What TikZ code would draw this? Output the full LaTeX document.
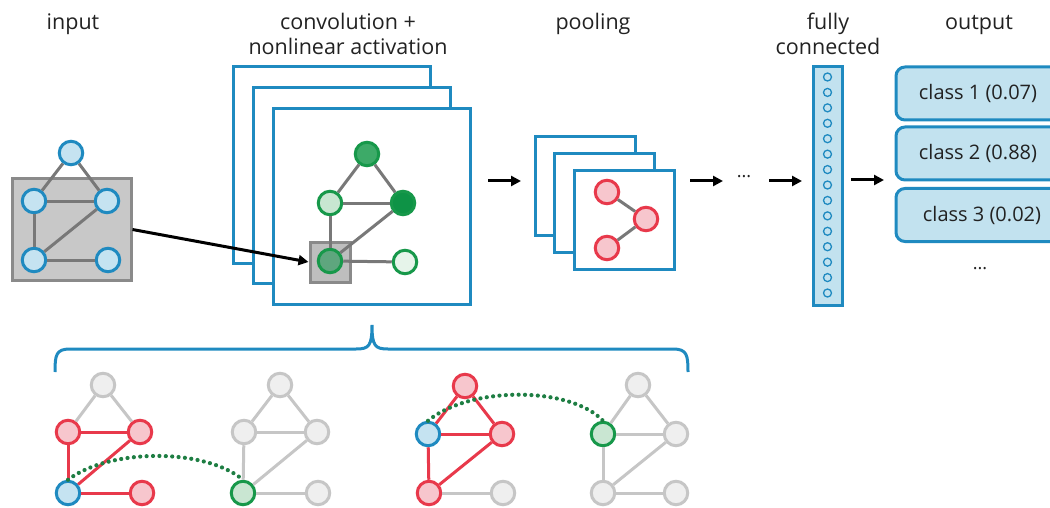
\documentclass[tikz,border=0pt]{standalone}
\usepackage{fontspec}
\setmainfont{Open Sans}
\usetikzlibrary{arrows.meta}
\definecolor{bl}{HTML}{1F8AC0}
\definecolor{blf}{HTML}{C5E3F1}
\definecolor{gr}{HTML}{17984A}
\definecolor{gA}{HTML}{3DAA68}
\definecolor{gB}{HTML}{C8E6D1}
\definecolor{gC}{HTML}{0E9346}
\definecolor{gD}{HTML}{5EA67E}
\definecolor{gE}{HTML}{E6F4EA}
\definecolor{gF}{HTML}{C9E6D2}
\definecolor{rd}{HTML}{E8394B}
\definecolor{rdf}{HTML}{F7C6CD}
\definecolor{gy}{HTML}{C6C6C6}
\definecolor{gyf}{HTML}{EFEFEF}
\definecolor{eg}{HTML}{787878}
\definecolor{rectf}{HTML}{C8C8C8}
\definecolor{rectd}{HTML}{8A8A8A}
\definecolor{dotg}{HTML}{1E7E43}
\definecolor{txt}{HTML}{222222}
\definecolor{outf}{HTML}{C2E2EF}
\begin{document}
\begin{tikzpicture}[x=1pt,y=-1pt,
  hd/.style={font=\fontsize{21.5}{25}\selectfont, text=txt, align=center, inner sep=0pt, anchor=base},
  nd/.style={circle, minimum size=23.5pt, inner sep=0pt, line width=3pt},
  inn/.style={nd, draw=bl, fill=blf},
  cn/.style={nd, draw=gr},
  pn/.style={nd, draw=rd, fill=rdf},
  gn/.style={nd, draw=gy, fill=gyf},
  ed/.style={draw=eg, line width=3pt},
  ged/.style={draw=gy, line width=3pt},
  red/.style={draw=rd, line width=3pt},
  stk/.style={draw=bl, fill=white, line width=3pt, inner sep=0pt},
  arr/.style={-{Triangle[length=10pt,width=10pt]}, line width=3pt, draw=black},
  outbox/.style={draw=bl, fill=outf, line width=3pt, rounded corners=9pt, minimum width=164pt, minimum height=53pt, inner sep=0pt, font=\fontsize{20}{24}\selectfont, text=txt},
  fcdot/.style={circle, draw=bl, line width=1.3pt, minimum size=8pt, inner sep=0pt},
  dotc/.style={draw=dotg, line width=4.2pt, line cap=round, dash pattern=on 0pt off 6.4pt},
  brc/.style={draw=bl, line width=3pt}
]
\useasboundingbox (0,0) rectangle (1050,508);

% headings
\node[hd] (hin) at (73,30) {input};
\node[hd] (hconv) at (348,55) {convolution +\\nonlinear activation};
\node[hd] (hpool) at (593,30) {pooling};
\node[hd] (hfc) at (828,55) {fully\\connected};
\node[hd] (hout) at (979,30) {output};

% input
\node[draw=rectd, fill=rectf, line width=3pt, minimum width=119pt, minimum height=101pt, inner sep=0pt] (inrect) at (71.5,229.5) {};
\node[inn] (i1) at (71,153) {};
\node[inn] (i2) at (34,201) {};
\node[inn] (i3) at (107,201) {};
\node[inn] (i4) at (34,260) {};
\node[inn] (i5) at (108,260) {};
\draw[ed] (i1) -- (i2);
\draw[ed] (i1) -- (i3);
\draw[ed] (i2) -- (i3);
\draw[ed] (i2) -- (i4);
\draw[ed] (i3) -- (i4);
\draw[ed] (i4) -- (i5);

% conv stack
\node[stk, minimum width=197pt, minimum height=196pt] (cs1) at (331.5,165) {};
\node[stk, minimum width=197pt, minimum height=196pt] (cs2) at (351.5,185.5) {};
\node[stk, minimum width=197pt, minimum height=196pt] (cs3) at (372,206.5) {};
\node[draw=rectd, fill=rectf!95!black, line width=3pt, minimum size=40pt, inner sep=0pt] (gsq) at (330,262) {};
\node[cn, fill=gA] (c1) at (367,154) {};
\node[cn, fill=gB] (c2) at (330,203) {};
\node[cn, fill=gC] (c3) at (403,203) {};
\node[cn, fill=gD] (c4) at (330,261) {};
\node[cn, fill=gE] (c5) at (405,262) {};
\draw[ed] (c1) -- (c2);
\draw[ed] (c1) -- (c3);
\draw[ed] (c2) -- (c3);
\draw[ed] (c2) -- (c4);
\draw[ed] (c3) -- (c4);
\draw[ed] (c4) -- (c5);
\draw[arr] (inrect.east) -- (gsq.west);

% pooling stack
\node[stk, minimum width=100pt, minimum height=99pt] (ps1) at (585,186) {};
\node[stk, minimum width=100pt, minimum height=99pt] (ps2) at (604.5,203) {};
\node[stk, minimum width=100pt, minimum height=99pt] (ps3) at (624,220) {};
\node[pn] (p1) at (607,192) {};
\node[pn] (p2) at (646,219) {};
\node[pn] (p3) at (607,248) {};
\draw[ed] (p1) -- (p2);
\draw[ed] (p2) -- (p3);

% arrows between stages
\coordinate (a1s) at (488,181); \coordinate (a1e) at (521,181);
\coordinate (a2s) at (690,181); \coordinate (a2e) at (723,181);
\coordinate (a3s) at (769,181); \coordinate (a3e) at (802,181);
\coordinate (a4s) at (851,180); \coordinate (a4e) at (884,180);
\draw[arr] (a1s) -- (a1e);
\draw[arr] (a2s) -- (a2e);
\node[font=\fontsize{18}{20}\selectfont, text=txt, inner sep=0pt] (dots1) at (744,177) {...};
\draw[arr] (a3s) -- (a3e);
\draw[arr] (a4s) -- (a4e);

% fully connected
\node[draw=bl, fill=outf, line width=3pt, minimum width=29pt, minimum height=238pt, inner sep=0pt] (fc) at (827.5,186) {};
\foreach \i in {0,...,14} \node[fcdot] (f\i) at (827.5,77+15.43*\i) {};

% output
\node[outbox] (o1) at (978,93.5) {class 1 (0.07)};
\node[outbox] (o2) at (978,153.5) {class 2 (0.88)};
\node[outbox] (o3) at (978,215) {\hspace{8pt}class 3 (0.02)};
\node[font=\fontsize{18}{20}\selectfont, text=txt, inner sep=0pt] (dots2) at (980,269) {...};

% brace
\draw[brc] (55,372) .. controls (55,355) and (56,349) .. (70,349) -- (356,349)
  .. controls (369,349) and (372,346) .. (372,325)
  .. controls (372,346) and (375,349) .. (388,349) -- (673,349)
  .. controls (687,349) and (688,355) .. (688,372);

% bottom graph 1
\node[gn] (a1) at (103,385) {};
\node[pn] (a2) at (68,432) {};
\node[pn] (a3) at (140,432) {};
\node[inn] (a4) at (68,493) {};
\node[pn] (a5) at (142,493) {};
\draw[ged] (a1) -- (a2);
\draw[ged] (a1) -- (a3);
\draw[red] (a2) -- (a3);
\draw[red] (a2) -- (a4);
\draw[red] (a3) -- (a4);
\draw[red] (a4) -- (a5);

% bottom graph 2
\node[gn] (b1) at (280,385) {};
\node[gn] (b2) at (244,432) {};
\node[gn] (b3) at (317,432) {};
\node[nd, draw=gr, fill=gF] (b4) at (243,493) {};
\node[gn] (b5) at (318,493) {};
\draw[ged] (b1) -- (b2);
\draw[ged] (b1) -- (b3);
\draw[ged] (b2) -- (b3);
\draw[ged] (b2) -- (b4);
\draw[ged] (b3) -- (b4);
\draw[ged] (b4) -- (b5);

% bottom graph 3
\node[pn] (e1) at (465,386) {};
\node[inn] (e2) at (428,434) {};
\node[pn] (e3) at (502,434) {};
\node[pn] (e4) at (429,493) {};
\node[gn] (e5) at (503,493) {};
\draw[red] (e1) -- (e2);
\draw[red] (e1) -- (e3);
\draw[red] (e2) -- (e3);
\draw[red] (e2) -- (e4);
\draw[red] (e3) -- (e4);
\draw[ged] (e4) -- (e5);

% bottom graph 4
\node[gn] (d1) at (638,385) {};
\node[nd, draw=gr, fill=gF] (d2) at (603,434) {};
\node[gn] (d3) at (676,434) {};
\node[gn] (d4) at (603,493) {};
\node[gn] (d5) at (676,493) {};
\draw[ged] (d1) -- (d2);
\draw[ged] (d1) -- (d3);
\draw[ged] (d2) -- (d3);
\draw[ged] (d2) -- (d4);
\draw[ged] (d3) -- (d4);
\draw[ged] (d4) -- (d5);

% dotted links
\draw[dotc] (a4.north) .. controls (110,448) and (205,448) .. (b4.north);
\draw[dotc] (e2.north) .. controls (470,386) and (570,386) .. (d2.north);
\end{tikzpicture}
\end{document}
